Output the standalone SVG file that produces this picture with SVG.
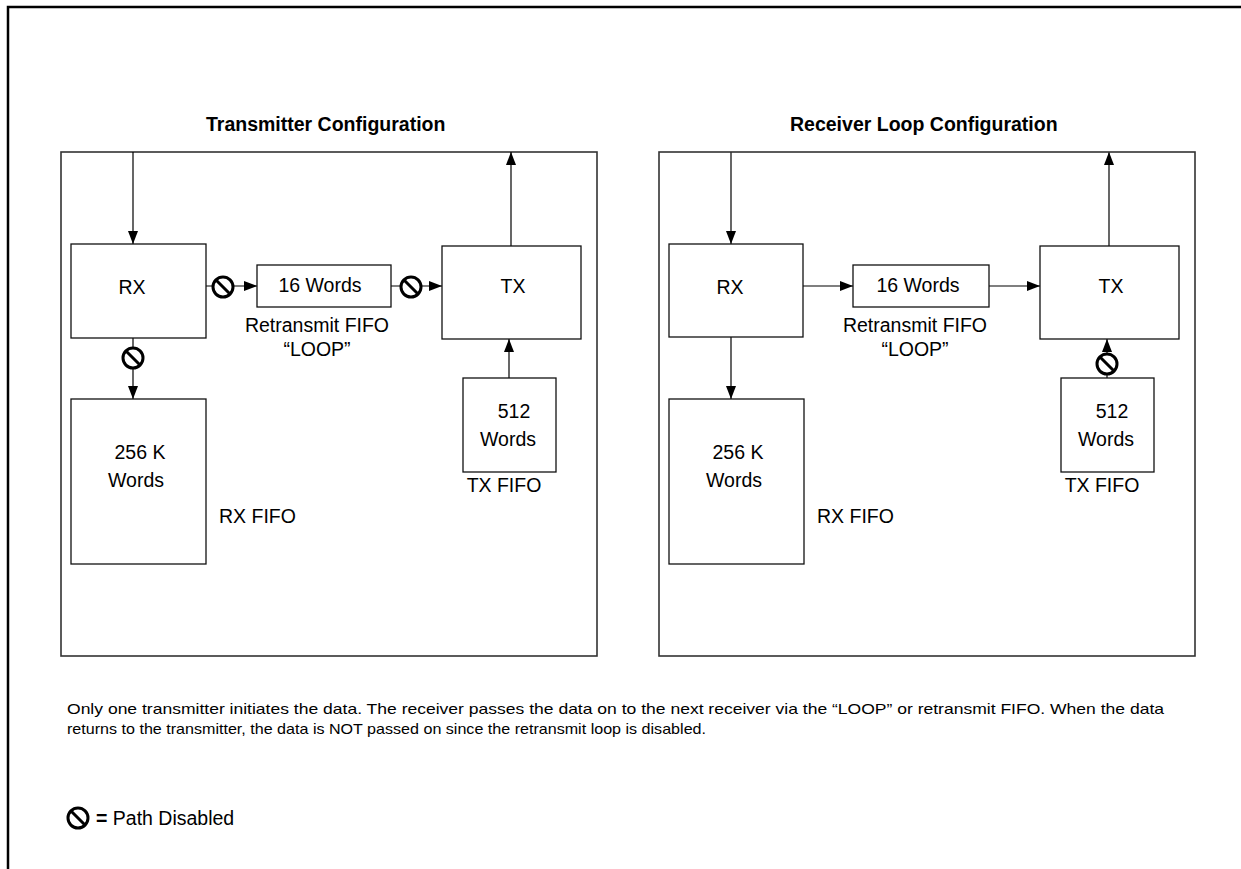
<svg xmlns="http://www.w3.org/2000/svg" width="1241" height="869" viewBox="0 0 1241 869">
  <defs>
    <style>
      text { font-family: "Liberation Sans", Arial, sans-serif; fill: #000; }
      .lbl { font-size: 19.5px; }
      .mid { text-anchor: middle; }
      .title { font-size: 19.5px; font-weight: bold; }
      .note { font-size: 15px; }
      .panel { fill: none; stroke: #333; stroke-width: 1.6; }
      .box { fill: #fff; stroke: #111; stroke-width: 1.3; }
      .wire { fill: none; stroke: #000; stroke-width: 1.2; marker-end: url(#arrow); }
      .frame { fill: none; stroke: #000; stroke-width: 2.5; }
      .off circle { fill: #fff; stroke: #000; stroke-width: 3; }
      .off line { stroke: #000; stroke-width: 3; }
    </style>
    <marker id="arrow" viewBox="0 0 13 10" refX="13" refY="5" markerWidth="13" markerHeight="10" markerUnits="userSpaceOnUse" orient="auto">
      <path d="M0,0 L13,5 L0,10 Z" fill="#000"/>
    </marker>
    <!-- "path disabled" sign: circle with a backslash -->
    <g id="noEntry" class="off">
      <circle cx="0" cy="0" r="10"/>
      <line x1="-7" y1="-7" x2="7" y2="7"/>
    </g>
  </defs>

  <rect width="1241" height="869" fill="#fff"/>

  <!-- page frame: top and left rules -->
  <path class="frame" d="M8,869 V7 H1241"/>

  <!-- ===== Transmitter Configuration ===== -->
  <g id="tx-config">
    <text class="title" x="206" y="131">Transmitter Configuration</text>
    <rect class="panel" x="61" y="152" width="536" height="504"/>
  </g>

  <g id="connectors">
    <!-- left panel -->
    <line class="wire" x1="133" y1="152" x2="133" y2="244"/>
    <line class="wire" x1="511" y1="246" x2="511" y2="152"/>
    <line class="wire" x1="206" y1="286" x2="257" y2="286"/>
    <line class="wire" x1="391" y1="286" x2="442" y2="286"/>
    <line class="wire" x1="133" y1="338" x2="133" y2="399"/>
    <line class="wire" x1="509" y1="378" x2="509" y2="339"/>
    <!-- right panel -->
    <line class="wire" x1="731" y1="152" x2="731" y2="244"/>
    <line class="wire" x1="1109" y1="246" x2="1109" y2="152"/>
    <line class="wire" x1="803" y1="286" x2="853" y2="286"/>
    <line class="wire" x1="989" y1="286" x2="1040" y2="286"/>
    <line class="wire" x1="731" y1="337" x2="731" y2="399"/>
    <line class="wire" x1="1107" y1="378" x2="1107" y2="339"/>
    <!-- disabled paths -->
    <use href="#noEntry" x="223" y="287"/>
    <use href="#noEntry" x="411" y="287"/>
    <use href="#noEntry" x="133" y="358"/>
    <use href="#noEntry" x="1107" y="364"/>
  </g>

  <g id="tx-rx">
    <rect class="box" x="71" y="244" width="135" height="94"/>
    <text class="lbl mid" x="132" y="294">RX</text>
  </g>
  <g id="tx-loop">
    <rect class="box" x="257" y="265" width="134" height="42"/>
    <text class="lbl mid" x="320" y="292">16 Words</text>
    <text class="lbl mid" x="317" y="332">Retransmit FIFO</text>
    <text class="lbl mid" x="317" y="356">“LOOP”</text>
  </g>
  <g id="tx-tx">
    <rect class="box" x="442" y="246" width="139" height="93"/>
    <text class="lbl mid" x="513" y="293">TX</text>
  </g>
  <g id="tx-rxfifo">
    <rect class="box" x="71" y="399" width="135" height="165"/>
    <text class="lbl mid" x="140" y="459">256 K</text>
    <text class="lbl mid" x="136" y="487">Words</text>
    <text class="lbl" x="219" y="523">RX FIFO</text>
  </g>
  <g id="tx-txfifo">
    <rect class="box" x="463" y="378" width="93" height="94"/>
    <text class="lbl mid" x="514" y="418">512</text>
    <text class="lbl mid" x="508" y="446">Words</text>
    <text class="lbl mid" x="504" y="492">TX FIFO</text>
  </g>

  <!-- ===== Receiver Loop Configuration ===== -->
  <g id="rx-config">
    <text class="title" x="790" y="131">Receiver Loop Configuration</text>
    <rect class="panel" x="659" y="152" width="536" height="504"/>
  </g>
  <g id="rx-rx">
    <rect class="box" x="669" y="244" width="134" height="93"/>
    <text class="lbl mid" x="730" y="294">RX</text>
  </g>
  <g id="rx-loop">
    <rect class="box" x="853" y="265" width="136" height="42"/>
    <text class="lbl mid" x="918" y="292">16 Words</text>
    <text class="lbl mid" x="915" y="332">Retransmit FIFO</text>
    <text class="lbl mid" x="915" y="356">“LOOP”</text>
  </g>
  <g id="rx-tx">
    <rect class="box" x="1040" y="246" width="139" height="93"/>
    <text class="lbl mid" x="1111" y="293">TX</text>
  </g>
  <g id="rx-rxfifo">
    <rect class="box" x="669" y="399" width="135" height="165"/>
    <text class="lbl mid" x="738" y="459">256 K</text>
    <text class="lbl mid" x="734" y="487">Words</text>
    <text class="lbl" x="817" y="523">RX FIFO</text>
  </g>
  <g id="rx-txfifo">
    <rect class="box" x="1061" y="378" width="93" height="94"/>
    <text class="lbl mid" x="1112" y="418">512</text>
    <text class="lbl mid" x="1106" y="446">Words</text>
    <text class="lbl mid" x="1102" y="492">TX FIFO</text>
  </g>

  <!-- explanatory note -->
  <g id="note">
    <text class="note" x="67" y="714" textLength="1097" lengthAdjust="spacingAndGlyphs">Only one transmitter initiates the data. The receiver passes the data on to the next receiver via the “LOOP” or retransmit FIFO. When the data</text>
    <text class="note" x="67" y="734" textLength="639" lengthAdjust="spacingAndGlyphs">returns to the transmitter, the data is NOT passed on since the retransmit loop is disabled.</text>
  </g>

  <!-- legend -->
  <g id="legend">
    <use href="#noEntry" x="78" y="818"/>
    <text class="lbl" x="96" y="825"><tspan font-weight="bold">=</tspan> Path Disabled</text>
  </g>
</svg>
